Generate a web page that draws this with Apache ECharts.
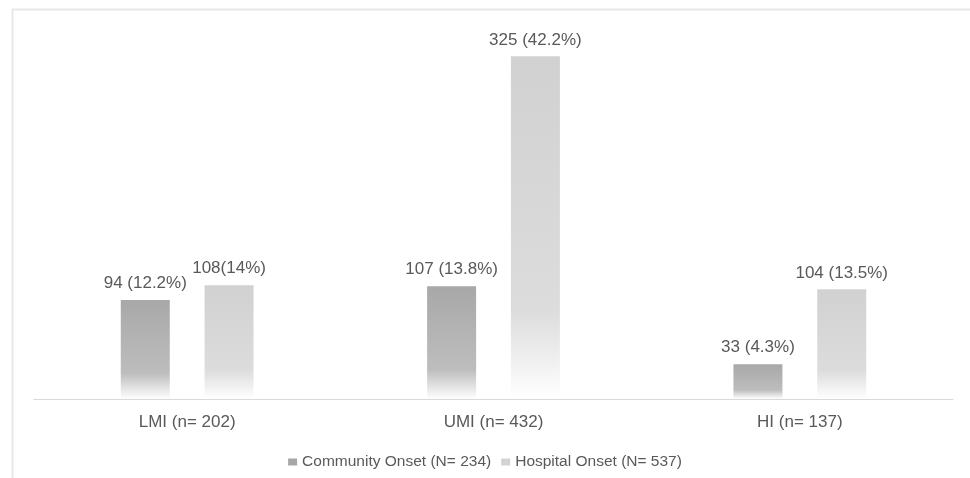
<!DOCTYPE html>
<html>
<head>
<meta charset="utf-8">
<script src="https://cdn.jsdelivr.net/npm/echarts@6/dist/echarts.min.js"></script>
<style>
  html, body { margin: 0; padding: 0; background: #fff; }
  #chart { width: 970px; height: 478px; }
</style>
</head>
<body>
<div id="chart"></div>
<script>
var categories = ['LMI (n= 202)', 'UMI (n= 432)', 'HI (n= 137)'];
var seriesNames = ['Community Onset (N= 234)', 'Hospital Onset (N= 537)'];
var communityValues = [94, 107, 33];
var hospitalValues = [108, 325, 104];
var communityLabels = ['94 (12.2%)', '107 (13.8%)', '33 (4.3%)'];
var hospitalLabels = ['108(14%)', '325 (42.2%)', '104 (13.5%)'];

function fade(top, mid) {
  return new echarts.graphic.LinearGradient(0, 0, 0, 1, [
    { offset: 0, color: top },
    { offset: 0.74, color: mid },
    { offset: 1, color: '#ffffff' }
  ]);
}

function withLabels(values, labels) {
  return values.map(function (v, i) {
    return { value: v, label: { formatter: labels[i] } };
  });
}

var myChart = echarts.init(document.getElementById('chart'));
var option = {
  animation: false,
  textStyle: { fontFamily: 'Liberation Sans, Arial, sans-serif' },
  grid: { left: 34, right: 17, top: 30, bottom: 79 },
  graphic: [
    { type: 'line', shape: { x1: 12, y1: 9.5, x2: 970, y2: 9.5 }, style: { stroke: '#e8e8e8', lineWidth: 2 } },
    { type: 'line', shape: { x1: 12.5, y1: 9, x2: 12.5, y2: 478 }, style: { stroke: '#e8e8e8', lineWidth: 2 } }
  ],
  legend: {
    bottom: 3,
    left: 'center',
    icon: 'rect',
    itemWidth: 9,
    itemHeight: 7,
    itemGap: 10,
    textStyle: { color: '#595959', fontSize: 15.5 },
    data: [
      { name: seriesNames[0], itemStyle: { color: '#a6a6a6' } },
      { name: seriesNames[1], itemStyle: { color: '#d3d3d3' } }
    ]
  },
  xAxis: {
    type: 'category',
    data: categories,
    axisLine: { lineStyle: { color: '#d9d9d9', width: 1 } },
    axisTick: { show: false },
    axisLabel: { color: '#595959', fontSize: 17, margin: 15 }
  },
  yAxis: {
    type: 'value',
    min: 0,
    max: 350,
    show: false,
    splitLine: { show: false }
  },
  series: [
    {
      name: seriesNames[0],
      type: 'bar',
      barWidth: 49,
      barGap: '71%',
      itemStyle: { color: fade('#a8a8a8', '#bdbdbd') },
      label: { show: true, position: 'top', color: '#595959', fontSize: 17, distance: 8 },
      data: withLabels(communityValues, communityLabels)
    },
    {
      name: seriesNames[1],
      type: 'bar',
      barWidth: 49,
      itemStyle: { color: fade('#d1d1d1', '#dcdcdc') },
      label: { show: true, position: 'top', color: '#595959', fontSize: 17, distance: 8 },
      data: withLabels(hospitalValues, hospitalLabels)
    }
  ]
};
myChart.setOption(option);
</script>
</body>
</html>
